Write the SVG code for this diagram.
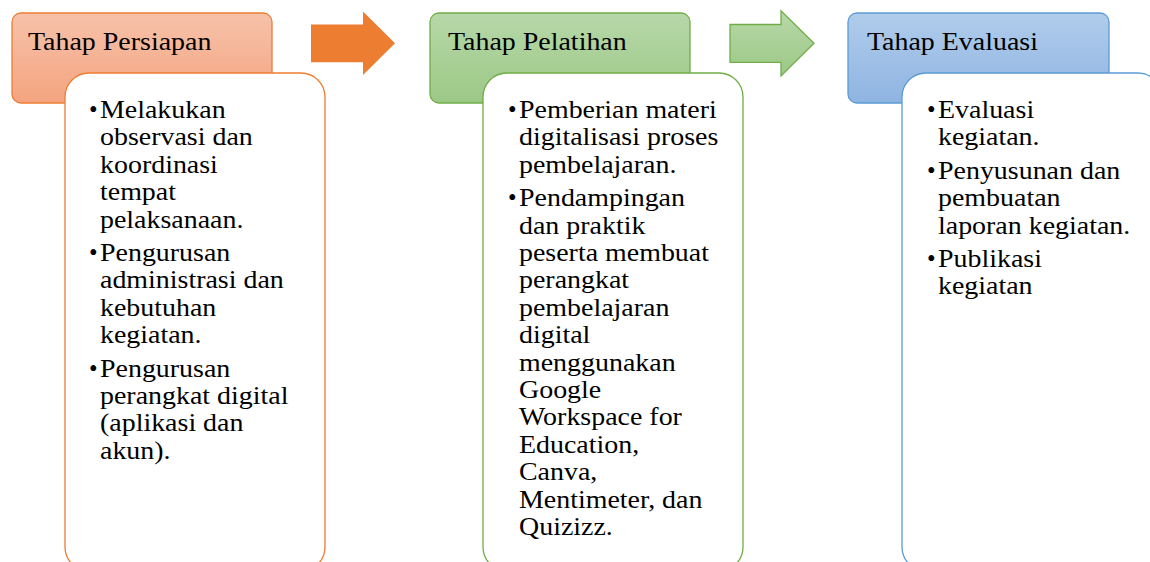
<svg xmlns="http://www.w3.org/2000/svg" width="1150" height="562" viewBox="0 0 1150 562">
  <defs>
    <linearGradient id="gOrange" x1="0" y1="0" x2="0" y2="1">
      <stop offset="0" stop-color="#F7C2AA"/>
      <stop offset="1" stop-color="#F4A47F"/>
    </linearGradient>
    <linearGradient id="gGreen" x1="0" y1="0" x2="0" y2="1">
      <stop offset="0" stop-color="#B7D8A9"/>
      <stop offset="1" stop-color="#9CC886"/>
    </linearGradient>
    <linearGradient id="gBlue" x1="0" y1="0" x2="0" y2="1">
      <stop offset="0" stop-color="#B0CCEB"/>
      <stop offset="1" stop-color="#8FB4E2"/>
    </linearGradient>
    <style>
      .hdr { stroke-width: 1.3; }
      .body { fill: #fff; stroke-width: 1.3; }
      .orange .hdr { fill: url(#gOrange); stroke: #ED7D31; }
      .orange .body { stroke: #ED7D31; }
      .green .hdr { fill: url(#gGreen); stroke: #70AD47; }
      .green .body { stroke: #70AD47; }
      .blue .hdr { fill: url(#gBlue); stroke: #5B9BD5; }
      .blue .body { stroke: #5B9BD5; }
      .txt { font-family: "Liberation Serif", Tinos, "Times New Roman", Times, "Noto Serif", "DejaVu Serif", FreeSerif, Georgia, serif; font-size: 24.5px; fill: #000; }
    </style>
  </defs>

  <!-- Stage 1: preparation -->
  <g id="persiapan" class="orange">
    <rect class="hdr" x="12" y="13" width="260" height="90" rx="9"/>
    <rect class="body" x="65" y="73" width="260" height="498" rx="24"/>
    <g class="txt">
      <text x="28" y="50" transform="translate(28 0) scale(1.14 1) translate(-28 0)">Tahap Persiapan</text>
      <text x="89" y="118">•</text>
      <text x="89" y="261">•</text>
      <text x="89" y="376.6">•</text>
      <text transform="translate(100 0) scale(1.14 1) translate(-100 0)">
        <tspan x="100" y="118">Melakukan</tspan>
        <tspan x="100" y="145.4">observasi dan</tspan>
        <tspan x="100" y="172.8">koordinasi</tspan>
        <tspan x="100" y="200.2">tempat</tspan>
        <tspan x="100" y="227.6">pelaksanaan.</tspan>
        <tspan x="100" y="261">Pengurusan</tspan>
        <tspan x="100" y="288.4">administrasi dan</tspan>
        <tspan x="100" y="315.8">kebutuhan</tspan>
        <tspan x="100" y="343.2">kegiatan.</tspan>
        <tspan x="100" y="376.6">Pengurusan</tspan>
        <tspan x="100" y="404">perangkat digital</tspan>
        <tspan x="100" y="431.4">(aplikasi dan</tspan>
        <tspan x="100" y="458.8">akun).</tspan>
      </text>
    </g>
  </g>

  <!-- Stage 2: training -->
  <g id="pelatihan" class="green">
    <rect class="hdr" x="430" y="13" width="260" height="90" rx="9"/>
    <rect class="body" x="483" y="73" width="260" height="498" rx="24"/>
    <g class="txt">
      <text x="448" y="50" transform="translate(448 0) scale(1.14 1) translate(-448 0)">Tahap Pelatihan</text>
      <text x="508" y="118">•</text>
      <text x="508" y="206.2">•</text>
      <text transform="translate(519 0) scale(1.14 1) translate(-519 0)">
        <tspan x="519" y="118">Pemberian materi</tspan>
        <tspan x="519" y="145.4">digitalisasi proses</tspan>
        <tspan x="519" y="172.8">pembelajaran.</tspan>
        <tspan x="519" y="206.2">Pendampingan</tspan>
        <tspan x="519" y="233.6">dan praktik</tspan>
        <tspan x="519" y="261">peserta membuat</tspan>
        <tspan x="519" y="288.4">perangkat</tspan>
        <tspan x="519" y="315.8">pembelajaran</tspan>
        <tspan x="519" y="343.2">digital</tspan>
        <tspan x="519" y="370.6">menggunakan</tspan>
        <tspan x="519" y="398">Google</tspan>
        <tspan x="519" y="425.4">Workspace for</tspan>
        <tspan x="519" y="452.8">Education,</tspan>
        <tspan x="519" y="480.2">Canva,</tspan>
        <tspan x="519" y="507.6">Mentimeter, dan</tspan>
        <tspan x="519" y="535">Quizizz.</tspan>
      </text>
    </g>
  </g>

  <!-- Stage 3: evaluation -->
  <g id="evaluasi" class="blue">
    <rect class="hdr" x="848" y="13" width="261" height="90" rx="9"/>
    <rect class="body" x="902" y="73" width="260" height="498" rx="24"/>
    <g class="txt">
      <text x="867" y="50" transform="translate(867 0) scale(1.14 1) translate(-867 0)">Tahap Evaluasi</text>
      <text x="927" y="118">•</text>
      <text x="927" y="178.8">•</text>
      <text x="927" y="267">•</text>
      <text transform="translate(938 0) scale(1.14 1) translate(-938 0)">
        <tspan x="938" y="118">Evaluasi</tspan>
        <tspan x="938" y="145.4">kegiatan.</tspan>
        <tspan x="938" y="178.8">Penyusunan dan</tspan>
        <tspan x="938" y="206.2">pembuatan</tspan>
        <tspan x="938" y="233.6">laporan kegiatan.</tspan>
        <tspan x="938" y="267">Publikasi</tspan>
        <tspan x="938" y="294.4">kegiatan</tspan>
      </text>
    </g>
  </g>

  <!-- Block arrows between stages -->
  <g id="connectors">
    <path d="M311,24.5 H363 V11.5 L395,43.3 L363,75 V62.3 H311 Z" fill="#ED7D31"/>
    <path d="M730,24.5 H781 V10.7 L814,43.3 L781,76 V62.3 H730 Z" fill="url(#gGreen)" stroke="#70AD47" stroke-width="1.3"/>
  </g>
</svg>
